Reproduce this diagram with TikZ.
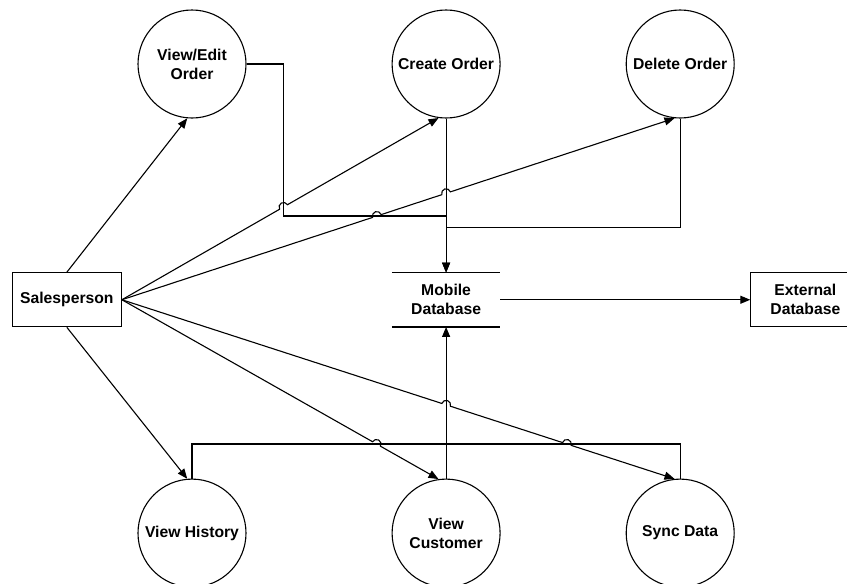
\documentclass[tikz,border=0pt]{standalone}
\usepackage{fontspec}
\setmainfont{Liberation Sans}
\usetikzlibrary{positioning, arrows.meta, calc, intersections}

\tikzset{
	labeltext/.style={font=\bfseries\fontsize{15.7}{19}\selectfont, align=center},
	process/.style={circle, draw, line width=1.1pt, minimum size=108pt, inner sep=0pt, labeltext},
	entity/.style={rectangle, draw, line width=1.1pt, minimum width=109pt, minimum height=54pt, labeltext},
	store/.style={rectangle, minimum width=108pt, minimum height=54pt, labeltext},
	link/.style={line width=1.1pt},
	flow/.style={line width=1.1pt, -{Triangle[length=10pt,width=8pt]}},
}

% small jump over a crossing line (uses \n1 from the surrounding let)
\newcommand{\hopover}[1]{-- ($(#1)!4.5pt!(sp.east)$) arc[start angle=\n1+180, end angle=\n1, radius=4.5pt]}

\begin{document}
\begin{tikzpicture}[x=1pt, y=1pt]
	\useasboundingbox (0,0) rectangle (847,-584);
	\clip (0,0) rectangle (847,-584);

	\node[process] (ve) at (192,-64) {View/Edit\\Order};
	\node[process, right=145pt of ve] (co) {Create Order};
	\node[process, right=125pt of co] (de) {Delete Order};
	\node[store, below=154pt of co] (mdb) {Mobile\\Database};
	\node[entity, right=250pt of mdb] (ext) {External\\Database};
	\node[entity, left=270pt of mdb] (sp) {Salesperson};
	\node[process, below=360pt of ve] (vh) {View History};
	\node[process, below=360pt of co] (vc) {View\\Customer};
	\node[process, below=360pt of de] (sy) {Sync Data};

	\draw[link] (mdb.north west) -- (mdb.north east) (mdb.south west) -- (mdb.south east);

	\coordinate (vebend) at ([shift={(37pt,-152pt)}]ve.east);
	\coordinate (dejoin) at ([yshift=45pt]mdb.north);
	\coordinate (synclevel) at ([yshift=-117pt]mdb.south);

	\draw[flow, name path=vepath] (ve.east) -| (vebend) -| (mdb.north);
	\draw[flow, name path=copath] (co.south) -- (mdb.north);
	\draw[link] (de.south) |- (dejoin);
	\draw[flow, name path=vcpath] (vc.north) -- (mdb.south);
	\draw[link, name path=syncpath] (sy.north) |- (synclevel) -| (vh.north);
	\draw[flow] (mdb.east) -- (ext.west);

	\draw[flow] (sp.north) -- (ve.-95);
	\draw[flow] (sp.south) -- (vh.95);

	\path[name path=tocreate] (sp.east) -- (co.-98);
	\path[name path=todelete] (sp.east) -- (de.-96);
	\path[name path=tocust] (sp.east) -- (vc.98);
	\path[name path=tosync] (sp.east) -- (sy.96);
	\path[name intersections={of=tocreate and vepath, by=j1}];
	\path[name intersections={of=todelete and vepath, by=j2}];
	\path[name intersections={of=todelete and copath, by=j3}];
	\path[name intersections={of=tocust and syncpath, by=j4}];
	\path[name intersections={of=tosync and vcpath, by=j5}];
	\path[name intersections={of=tosync and syncpath, by=j6}];

	\draw[flow] let \p1=($(co.-98)-(sp.east)$), \n1={atan2(\y1,\x1)} in
		(sp.east) \hopover{j1} -- (co.-98);
	\draw[flow] let \p1=($(de.-96)-(sp.east)$), \n1={atan2(\y1,\x1)} in
		(sp.east) \hopover{j2} \hopover{j3} -- (de.-96);
	\draw[flow] let \p1=($(vc.98)-(sp.east)$), \n1={atan2(\y1,\x1)} in
		(sp.east) \hopover{j4} -- (vc.98);
	\draw[flow] let \p1=($(sy.96)-(sp.east)$), \n1={atan2(\y1,\x1)} in
		(sp.east) \hopover{j5} \hopover{j6} -- (sy.96);

\end{tikzpicture}
\end{document}
